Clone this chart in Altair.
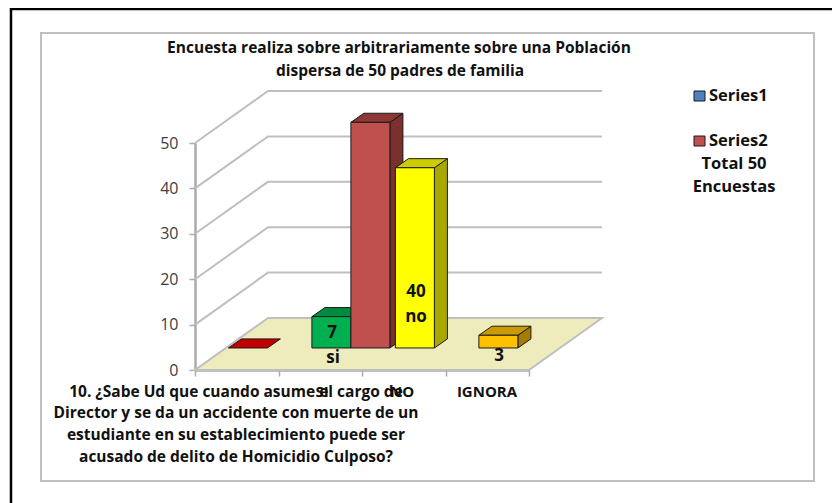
import altair as alt
import pandas as pd

# --- data ---
grid_values = [0, 10, 20, 30, 40, 50]
category_ticks = [0, 1, 2, 3, 4]
bar_starts = [0.40, 1.40, 1.867, 2.40, 3.40]
bar_values = [0, 6.9, 49.7, 39.7, 2.8]
front_colors = ["#C00000", "#00B050", "#C0504D", "#FFFF00", "#FFC000"]
top_colors = ["#C00000", "#008A3E", "#8C3836", "#CCCC00", "#CC9900"]
side_colors = ["#C00000", "#007A35", "#7A302E", "#A8A800", "#A67C00"]

title_lines = ["Encuesta realiza sobre arbitrariamente  sobre una Población",
               "dispersa de 50 padres de familia"]
question_lines = ["10. ¿Sabe Ud que cuando asume el cargo de",
                  "Director y se da un accidente con muerte de un",
                  "estudiante  en su establecimiento puede ser",
                  "acusado de delito de Homicidio Culposo?"]
category_labels = ["SI", "NO", "IGNORA"]

# --- layout ---
PAGE_LEFT, PAGE_TOP = 195, 143   # page position of plot origin
W, H = 334, 227
BAR_W = 0.467
WALL_DX, WALL_DY = 0.874, 11.45
BAR_DX, BAR_DY = 0.156, 2.0
BASE_LIFT = 4.85
FONT = "Open Sans"

xs = alt.Scale(domain=[0, 4], range=[0, W], nice=False, zero=False)
ys = alt.Scale(domain=[0, 50], range=[H, 0], nice=False, zero=False)
x_axis = alt.Axis(values=category_ticks, labels=False, grid=False, domainColor="#ABABAB",
                  domainWidth=2.5, tickColor="#ABABAB", tickWidth=1.5, tickSize=6, title=None)
y_axis = alt.Axis(values=grid_values, grid=False, domainColor="#ABABAB", domainWidth=2.5,
                  tickColor="#ABABAB", tickWidth=1.5, tickSize=6, labelFont=FONT,
                  labelFontSize=16, labelColor="#404040", labelPadding=11, title=None)
X = lambda f="x": alt.X(f"{f}:Q", scale=xs, axis=x_axis, title=None)
Y = lambda f="y": alt.Y(f"{f}:Q", scale=ys, axis=y_axis, title=None, stack=None)


def px(v):
    return alt.value(v - PAGE_LEFT)


def py(v):
    return alt.value(v - PAGE_TOP)


def top_face(x0, width, v, dx, dy, color, stroke, sw=1.0):
    d = pd.DataFrame({"y": [v, v + dy], "x": [x0, x0 + dx], "x2": [x0 + width, x0 + width + dx]})
    return alt.Chart(d).mark_area(orient="horizontal", color=color, stroke=stroke,
                                  strokeWidth=sw, opacity=1).encode(
        y=Y(), x=X(), x2="x2:Q")


def side_face(x0, v0, v1, dx, dy, color):
    d = pd.DataFrame({"x": [x0, x0 + dx], "y": [v0, v0 + dy], "y2": [v1, v1 + dy]})
    return alt.Chart(d).mark_area(color=color, stroke="#1a1a1a", strokeWidth=1, opacity=1).encode(
        x=X(), y=Y(), y2="y2:Q")


def front_face(x0, width, v0, v1, color):
    d = pd.DataFrame({"x": [x0, x0 + width], "y": [v0, v0], "y2": [v1, v1]})
    return alt.Chart(d).mark_area(color=color, stroke="#1a1a1a", strokeWidth=1, opacity=1).encode(
        x=X(), y=Y(), y2="y2:Q")


def text(s, x, y, size=15.5, color="#111111", align="center", weight="bold"):
    d = pd.DataFrame({"t": [s]})
    return alt.Chart(d).mark_text(font=FONT, fontSize=size, fontWeight=weight, color=color,
                                  align=align, baseline="middle").encode(
        text="t:N", x=px(x), y=py(y))


def frame(x0, y0, x1, y1, color, sw):
    d = pd.DataFrame({"k": [0]})
    return alt.Chart(d).mark_rect(fill="transparent", stroke=color, strokeWidth=sw).encode(
        x=px(x0), x2=px(x1), y=py(y0), y2=py(y1))


layers = [frame(11, 9, 860, 520, "#000000", 2.5), frame(41, 33, 814, 481, "#BFBFBF", 2)]

# walls
wall = pd.DataFrame([
    {"g": v, "x": x, "y": y}
    for v in grid_values[1:]
    for x, y in [(0, v), (WALL_DX, v + WALL_DY), (4 + WALL_DX, v + WALL_DY)]
])
layers.append(alt.Chart(wall).mark_line(color="#BFBFBF", strokeWidth=2).encode(
    x=X(), y=Y(), detail="g:N"))

# floor
layers.append(top_face(0, 4, 0, WALL_DX, WALL_DY, "#EEECBC", "#BFBFBF", 2))

# bars
for s, v, fc, tc, sc in zip(bar_starts, bar_values, front_colors, top_colors, side_colors):
    v0 = BASE_LIFT
    v1 = BASE_LIFT + v
    if v > 0:
        layers.append(side_face(s + BAR_W, v0, v1, BAR_DX, BAR_DY, sc))
    layers.append(top_face(s, BAR_W, v1, BAR_DX, BAR_DY, tc, "#1a1a1a"))
    if v > 0:
        layers.append(front_face(s, BAR_W, v0, v1, fc))

# data labels
for s, x, y in [("7", 332, 333), ("si", 333, 358), ("40", 416, 292), ("no", 416, 317), ("3", 499, 356)]:
    layers.append(text(s, x, y, size=17))

# title
layers.append(text(title_lines[0], 399, 48))
layers.append(text(title_lines[1], 400, 71))

# question + category labels
for line, y in zip(question_lines, [392, 413, 435, 457]):
    layers.append(text(line, 236, y))
for label, x in zip(category_labels, [322, 402, 487]):
    layers.append(text(label, x, 392, size=15))

# legend
for name, y, color in [("Series1", 96, "#4F81BD"), ("Series2", 141, "#C0504D")]:
    d = pd.DataFrame({"k": [0]})
    layers.append(alt.Chart(d).mark_rect(fill=color, stroke="#1a1a1a", strokeWidth=1).encode(
        x=px(694), x2=px(705), y=py(y - 5), y2=py(y + 5)))
    layers.append(text(name, 709, y, size=16.5, align="left"))
layers.append(text("Total 50", 734, 164, size=16.5))
layers.append(text("Encuestas", 734, 187, size=16.5))

chart = alt.layer(*layers).properties(
    width=W, height=H,
    padding={"left": PAGE_LEFT - 8, "top": PAGE_TOP - 8,
             "right": 832 - PAGE_LEFT - W, "bottom": 503 - PAGE_TOP - H},
    autosize=alt.AutoSizeParams(type="none"),
    background="white",
).configure_view(stroke=None)

chart.save("out.html", embed_options={"renderer": "svg", "actions": False})
